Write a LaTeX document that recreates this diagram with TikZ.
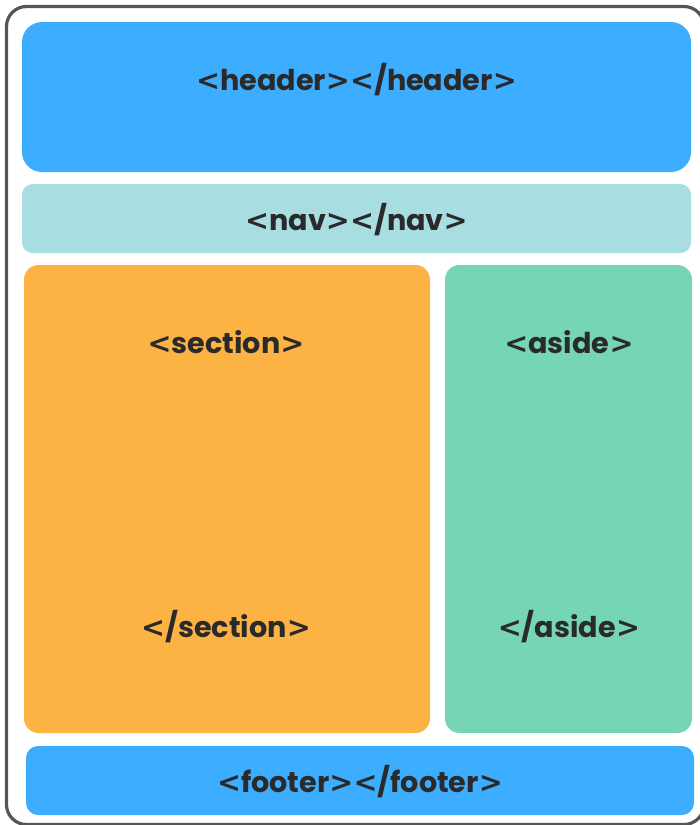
\documentclass[tikz,border=0pt]{standalone}
\usepackage{fontspec}
\setmainfont{Poppins}[BoldFont={* Bold}]
\newfontfamily\bracketfont{DejaVu Sans}[BoldFont={* Bold}]
\newcommand{\opentag}[1]{{\bracketfont <}#1{\bracketfont >}}
\newcommand{\closetag}[1]{{\bracketfont <}/#1{\bracketfont >}}
\definecolor{frameline}{HTML}{555555}
\definecolor{headblue}{HTML}{3DAEFF}
\definecolor{navcyan}{HTML}{A8DDE2}
\definecolor{secorange}{HTML}{FDB244}
\definecolor{asidegreen}{HTML}{76D5B7}
\definecolor{tagtext}{HTML}{2A2A2A}
\tikzset{
  tag/.style={text=tagtext, font=\fontsize{21.5}{26}\selectfont\bfseries, inner sep=0pt, anchor=center}
}
\begin{document}
\begin{tikzpicture}[x=0.75pt, y=-0.75pt]
  \useasboundingbox (0,0) rectangle (700,825);
  % outer page frame, running off the right and bottom edges
  \begin{scope}
    \clip (0,0) rectangle (700,825);
    \draw[frameline, line width=2.4pt, rounded corners=15pt] (6.5,6.5) rectangle (704,824.5);
  \end{scope}
  % page regions
  \fill[headblue, rounded corners=15pt] (22,22) rectangle (691,172);
  \fill[navcyan, rounded corners=8pt] (22,184) rectangle (691,253);
  \fill[secorange, rounded corners=11pt] (24,265) rectangle (430,733);
  \fill[asidegreen, rounded corners=11pt] (445,265) rectangle (692,733);
  \fill[headblue, rounded corners=9pt] (26,746) rectangle (694,815);
  % tags
  \node[tag] (header) at (356.5,80) {\opentag{header}\closetag{header}};
  \node[tag] (nav) at (356.5,220) {\opentag{nav}\closetag{nav}};
  \node[tag] (secopen) at (226,342) {\opentag{section}};
  \node[tag] (secclose) at (226,627) {\closetag{section}};
  \node[tag] (asideopen) at (569,342) {\opentag{aside}};
  \node[tag] (asideclose) at (569,627) {\closetag{aside}};
  \node[tag] (footer) at (360,782) {\opentag{footer}\closetag{footer}};
\end{tikzpicture}
\end{document}
